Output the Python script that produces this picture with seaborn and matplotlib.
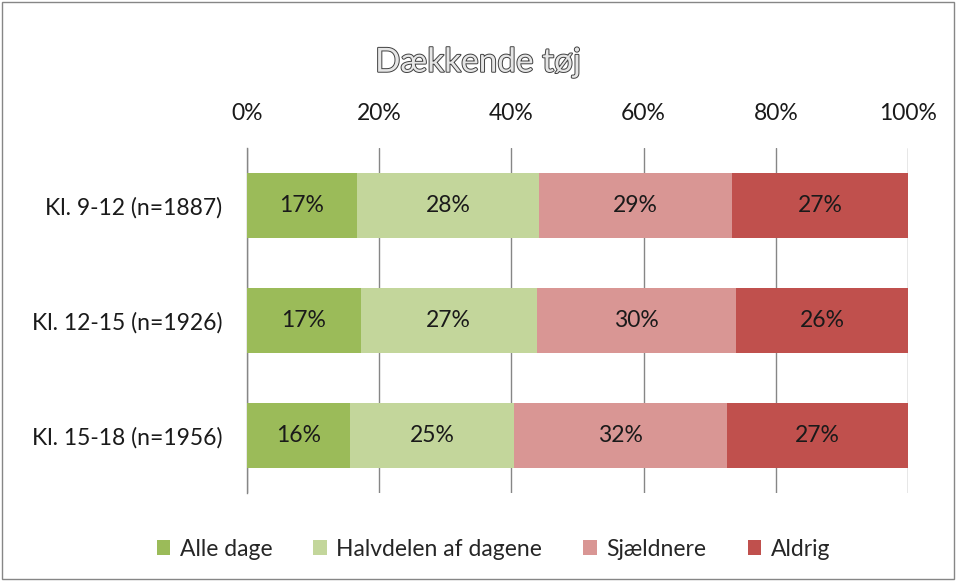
import matplotlib
matplotlib.use("Agg")
import matplotlib.pyplot as plt
import matplotlib.patheffects as pe
from matplotlib.patches import Patch, Rectangle
import seaborn as sns
import pandas as pd
import numpy as np

categories = ["Kl. 9-12 (n=1887)", "Kl. 12-15 (n=1926)", "Kl. 15-18 (n=1956)"]
series = ["Alle dage", "Halvdelen af dagene", "Sjældnere", "Aldrig"]
alle_dage = [16.6, 17.2, 15.6]
halvdelen = [27.6, 26.6, 24.8]
sjaeldnere = [29.2, 30.2, 32.2]
aldrig = [26.6, 26.0, 27.4]
colors = ["#9BBB59", "#C3D69B", "#D99694", "#C0504D"]
tick_labels = ["0%", "20%", "40%", "60%", "80%", "100%"]

sns.set_theme(style="white")
plt.rcParams["font.family"] = ["Lato", "DejaVu Sans"]

FS = 16.5
values = [alle_dage, halvdelen, sjaeldnere, aldrig]
cum = np.cumsum(np.array(values), axis=0)

fig = plt.figure(figsize=(9.56, 5.81), dpi=100)
ax = fig.add_axes([0.2584, 0.1515, 0.6914, 0.5938])

for i in range(len(series) - 1, -1, -1):
    df = pd.DataFrame({"cat": categories, "val": cum[i]})
    sns.barplot(data=df, x="val", y="cat", orient="h", color=colors[i],
                width=0.57, saturation=1, ax=ax, zorder=3, linewidth=0)

for i in range(len(series)):
    for j in range(len(categories)):
        left = cum[i][j] - values[i][j]
        ax.text(left + values[i][j] / 2, j, f"{values[i][j]:.0f}%",
                ha="center", va="center", fontsize=FS, color="#1a1a1a", zorder=5)

ax.set_xlim(0, 100)
ax.set_ylim(2.5, -0.5)
ax.set_xticks([0, 20, 40, 60, 80, 100])
ax.set_xticklabels(tick_labels, fontsize=FS, color="#1a1a1a")
ax.xaxis.tick_top()
ax.tick_params(axis="x", length=0, pad=17)
ax.tick_params(axis="y", length=0, pad=18, labelsize=FS, labelcolor="#1a1a1a")
ax.set_xlabel("")
ax.set_ylabel("")
ax.grid(axis="x", color="#868686", linewidth=1, zorder=0)
ax.set_axisbelow(True)
for s in ["top", "right", "bottom"]:
    ax.spines[s].set_visible(False)
ax.spines["left"].set_color("#868686")
ax.spines["left"].set_linewidth(1)

fig.text(0.5, 0.892, "Dækkende tøj", ha="center", va="center", fontsize=24,
         color="#e6e6e6",
         path_effects=[pe.withStroke(linewidth=1.4, foreground="#404040")])

handles = [Patch(facecolor=c, edgecolor="none", label=s) for c, s in zip(colors, series)]
fig.legend(handles=handles, loc="center", bbox_to_anchor=(0.516, 0.055), ncol=4,
           frameon=False, fontsize=FS, handlelength=0.6, handleheight=0.6,
           handletextpad=0.4, columnspacing=1.8)

fig.patches.append(Rectangle((0.002, 0.003), 0.996, 0.994, transform=fig.transFigure,
                             fill=False, edgecolor="#868686", linewidth=1))

fig.savefig("out.png", dpi=100)
